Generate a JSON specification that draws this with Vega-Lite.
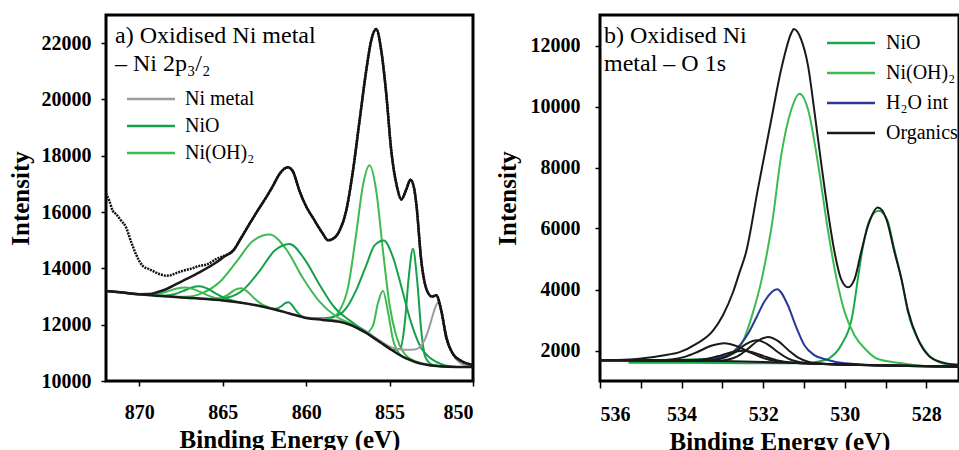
{
  "$schema": "https://vega.github.io/schema/vega-lite/v6.json",
  "padding": {"left": 6, "top": 13, "right": 0, "bottom": 0},
  "spacing": 17,
  "config": {
    "font": "Liberation Serif",
    "view": {"stroke": "black", "strokeWidth": 3},
    "axis": {"domain": false, "grid": false, "ticks": true, "tickColor": "black", "tickWidth": 1.5, "tickSize": 5,
      "labelFont": "Liberation Serif", "labelFontWeight": "bold", "labelFontSize": 20, "labelColor": "black",
      "titleFont": "Liberation Serif", "titleFontWeight": "bold", "titleFontSize": 25, "titleColor": "black"},
    "legend": {"labelFont": "Liberation Serif", "labelFontSize": 20, "labelColor": "black", "padding": 0},
    "title": {"font": "Liberation Serif", "fontSize": 24, "fontWeight": "normal", "color": "black", "anchor": "start", "frame": "group", "lineHeight": 28}
  },
  "resolve": {"scale": {"x": "independent", "y": "independent", "color": "independent"}, "legend": {"color": "independent"}},
  "datasets": {
    "a_comp": [
      {"c":"A","t":"Ni(OH)₂","E":859.0,"I":12180},{"c":"A","t":"Ni(OH)₂","E":858.5,"I":12230},{"c":"A","t":"Ni(OH)₂","E":858.0,"I":12500},{"c":"A","t":"Ni(OH)₂","E":857.5,"I":13300},{"c":"A","t":"Ni(OH)₂","E":857.0,"I":15230},{"c":"A","t":"Ni(OH)₂","E":856.6,"I":16940},{"c":"A","t":"Ni(OH)₂","E":856.2,"I":17660},{"c":"A","t":"Ni(OH)₂","E":855.8,"I":16750},{"c":"A","t":"Ni(OH)₂","E":855.4,"I":14640},{"c":"A","t":"Ni(OH)₂","E":855.0,"I":12700},{"c":"A","t":"Ni(OH)₂","E":854.6,"I":11600},{"c":"A","t":"Ni(OH)₂","E":854.2,"I":11050},{"c":"A","t":"Ni(OH)₂","E":853.5,"I":10710},{"c":"A","t":"Ni(OH)₂","E":852.5,"I":10570},{"c":"A","t":"Ni(OH)₂","E":851.0,"I":10500},
      {"c":"B","t":"NiO","E":860.0,"I":12250},{"c":"B","t":"NiO","E":859.0,"I":12230},{"c":"B","t":"NiO","E":858.2,"I":12310},{"c":"B","t":"NiO","E":857.6,"I":12590},{"c":"B","t":"NiO","E":857.0,"I":13230},{"c":"B","t":"NiO","E":856.4,"I":14110},{"c":"B","t":"NiO","E":855.9,"I":14815},{"c":"B","t":"NiO","E":855.35,"I":14990},{"c":"B","t":"NiO","E":854.8,"I":14400},{"c":"B","t":"NiO","E":854.3,"I":13360},{"c":"B","t":"NiO","E":853.7,"I":12055},{"c":"B","t":"NiO","E":853.1,"I":11160},{"c":"B","t":"NiO","E":852.5,"I":10790},{"c":"B","t":"NiO","E":851.8,"I":10575},{"c":"B","t":"NiO","E":851.0,"I":10500},
      {"c":"C","t":"Ni(OH)₂","E":856.8,"I":11840},{"c":"C","t":"Ni(OH)₂","E":856.4,"I":11720},{"c":"C","t":"Ni(OH)₂","E":856.0,"I":11960},{"c":"C","t":"Ni(OH)₂","E":855.7,"I":12760},{"c":"C","t":"Ni(OH)₂","E":855.4,"I":13210},{"c":"C","t":"Ni(OH)₂","E":855.1,"I":12480},{"c":"C","t":"Ni(OH)₂","E":854.8,"I":11480},{"c":"C","t":"Ni(OH)₂","E":854.4,"I":10955},{"c":"C","t":"Ni(OH)₂","E":854.0,"I":10800},
      {"c":"D","t":"NiO","E":854.8,"I":11100},{"c":"D","t":"NiO","E":854.35,"I":11150},{"c":"D","t":"NiO","E":854.1,"I":12000},{"c":"D","t":"NiO","E":853.85,"I":13700},{"c":"D","t":"NiO","E":853.6,"I":14700},{"c":"D","t":"NiO","E":853.35,"I":13590},{"c":"D","t":"NiO","E":853.1,"I":11780},{"c":"D","t":"NiO","E":852.85,"I":10840},{"c":"D","t":"NiO","E":852.4,"I":10570},{"c":"D","t":"NiO","E":851.5,"I":10500},
      {"c":"M","t":"Ni metal","E":860.0,"I":12250},{"c":"M","t":"Ni metal","E":859.0,"I":12200},{"c":"M","t":"Ni metal","E":858.0,"I":12140},{"c":"M","t":"Ni metal","E":857.0,"I":11960},{"c":"M","t":"Ni metal","E":856.5,"I":11810},{"c":"M","t":"Ni metal","E":856.0,"I":11600},{"c":"M","t":"Ni metal","E":855.5,"I":11400},{"c":"M","t":"Ni metal","E":855.0,"I":11220},{"c":"M","t":"Ni metal","E":854.5,"I":11140},{"c":"M","t":"Ni metal","E":854.0,"I":11110},{"c":"M","t":"Ni metal","E":853.5,"I":11120},{"c":"M","t":"Ni metal","E":853.2,"I":11200},{"c":"M","t":"Ni metal","E":852.9,"I":11450},{"c":"M","t":"Ni metal","E":852.6,"I":11950},{"c":"M","t":"Ni metal","E":852.4,"I":12360},{"c":"M","t":"Ni metal","E":852.2,"I":12700},{"c":"M","t":"Ni metal","E":852.1,"I":12790},{"c":"M","t":"Ni metal","E":851.95,"I":12650},{"c":"M","t":"Ni metal","E":851.8,"I":12200},{"c":"M","t":"Ni metal","E":851.6,"I":11650},{"c":"M","t":"Ni metal","E":851.4,"I":11190},{"c":"M","t":"Ni metal","E":851.1,"I":10850},{"c":"M","t":"Ni metal","E":850.8,"I":10660},{"c":"M","t":"Ni metal","E":850.4,"I":10560},{"c":"M","t":"Ni metal","E":850.0,"I":10530},
      {"c":"E","t":"Ni(OH)₂","E":868.2,"I":12990},{"c":"E","t":"Ni(OH)₂","E":867.2,"I":12990},{"c":"E","t":"Ni(OH)₂","E":866.2,"I":13130},{"c":"E","t":"Ni(OH)₂","E":865.2,"I":13510},{"c":"E","t":"Ni(OH)₂","E":864.2,"I":14220},{"c":"E","t":"Ni(OH)₂","E":863.2,"I":14970},{"c":"E","t":"Ni(OH)₂","E":862.2,"I":15200},{"c":"E","t":"Ni(OH)₂","E":861.2,"I":14680},{"c":"E","t":"Ni(OH)₂","E":860.2,"I":13660},{"c":"E","t":"Ni(OH)₂","E":859.2,"I":12820},{"c":"E","t":"Ni(OH)₂","E":858.2,"I":12290},{"c":"E","t":"Ni(OH)₂","E":857.2,"I":12000},{"c":"E","t":"Ni(OH)₂","E":856.5,"I":11750},
      {"c":"F","t":"NiO","E":866.5,"I":12925},{"c":"F","t":"NiO","E":865.5,"I":12920},{"c":"F","t":"NiO","E":864.6,"I":12985},{"c":"F","t":"NiO","E":863.7,"I":13280},{"c":"F","t":"NiO","E":862.8,"I":13905},{"c":"F","t":"NiO","E":861.9,"I":14625},{"c":"F","t":"NiO","E":861.0,"I":14870},{"c":"F","t":"NiO","E":860.1,"I":14330},{"c":"F","t":"NiO","E":859.2,"I":13420},{"c":"F","t":"NiO","E":858.3,"I":12610},{"c":"F","t":"NiO","E":857.4,"I":12155},{"c":"F","t":"NiO","E":856.5,"I":11770},{"c":"F","t":"NiO","E":855.8,"I":11480},
      {"c":"G","t":"Ni(OH)₂","E":865.6,"I":12905},{"c":"G","t":"Ni(OH)₂","E":865.1,"I":12950},{"c":"G","t":"Ni(OH)₂","E":864.7,"I":13060},{"c":"G","t":"Ni(OH)₂","E":864.3,"I":13230},{"c":"G","t":"Ni(OH)₂","E":863.9,"I":13290},{"c":"G","t":"Ni(OH)₂","E":863.5,"I":13160},{"c":"G","t":"Ni(OH)₂","E":863.1,"I":12930},{"c":"G","t":"Ni(OH)₂","E":862.7,"I":12740},{"c":"G","t":"Ni(OH)₂","E":862.2,"I":12600},
      {"c":"H","t":"NiO","E":869.0,"I":13034},{"c":"H","t":"NiO","E":868.4,"I":13038},{"c":"H","t":"NiO","E":867.9,"I":13082},{"c":"H","t":"NiO","E":867.4,"I":13190},{"c":"H","t":"NiO","E":866.9,"I":13315},{"c":"H","t":"NiO","E":866.4,"I":13365},{"c":"H","t":"NiO","E":865.9,"I":13275},{"c":"H","t":"NiO","E":865.4,"I":13100},{"c":"H","t":"NiO","E":864.9,"I":12947},{"c":"H","t":"NiO","E":864.4,"I":12848},{"c":"H","t":"NiO","E":863.8,"I":12774},
      {"c":"I","t":"Ni(OH)₂","E":870.1,"I":13078},{"c":"I","t":"Ni(OH)₂","E":869.4,"I":13067},{"c":"I","t":"Ni(OH)₂","E":868.85,"I":13101},{"c":"I","t":"Ni(OH)₂","E":868.3,"I":13185},{"c":"I","t":"Ni(OH)₂","E":867.75,"I":13288},{"c":"I","t":"Ni(OH)₂","E":867.2,"I":13320},{"c":"I","t":"Ni(OH)₂","E":866.65,"I":13238},{"c":"I","t":"Ni(OH)₂","E":866.1,"I":13095},{"c":"I","t":"Ni(OH)₂","E":865.55,"I":12966},{"c":"I","t":"Ni(OH)₂","E":865.0,"I":12882},{"c":"I","t":"Ni(OH)₂","E":864.3,"I":12813},
      {"c":"J","t":"NiO","E":862.06,"I":12575},{"c":"J","t":"NiO","E":861.86,"I":12565},{"c":"J","t":"NiO","E":861.66,"I":12594},{"c":"J","t":"NiO","E":861.46,"I":12670},{"c":"J","t":"NiO","E":861.26,"I":12766},{"c":"J","t":"NiO","E":861.06,"I":12800},{"c":"J","t":"NiO","E":860.86,"I":12706},{"c":"J","t":"NiO","E":860.66,"I":12540},{"c":"J","t":"NiO","E":860.46,"I":12394},{"c":"J","t":"NiO","E":860.26,"I":12295},{"c":"J","t":"NiO","E":860.06,"I":12245}
    ],
    "a_black": [
      {"c":"bg","E":872,"I":13200},{"c":"bg","E":871,"I":13140},{"c":"bg","E":870,"I":13080},{"c":"bg","E":869,"I":13030},{"c":"bg","E":868,"I":12990},{"c":"bg","E":867,"I":12950},{"c":"bg","E":866,"I":12910},{"c":"bg","E":865,"I":12860},{"c":"bg","E":864,"I":12790},{"c":"bg","E":863,"I":12690},{"c":"bg","E":862,"I":12560},{"c":"bg","E":861,"I":12400},{"c":"bg","E":860,"I":12240},{"c":"bg","E":859,"I":12170},{"c":"bg","E":858,"I":12100},{"c":"bg","E":857.5,"I":12020},{"c":"bg","E":857,"I":11900},{"c":"bg","E":856.5,"I":11740},{"c":"bg","E":856,"I":11550},{"c":"bg","E":855.5,"I":11350},{"c":"bg","E":855,"I":11150},{"c":"bg","E":854.5,"I":10960},{"c":"bg","E":854,"I":10800},{"c":"bg","E":853.5,"I":10680},{"c":"bg","E":853,"I":10600},{"c":"bg","E":852,"I":10520},{"c":"bg","E":851,"I":10500},{"c":"bg","E":850,"I":10500},
      {"c":"fit","E":872,"I":13200},{"c":"fit","E":871,"I":13140},{"c":"fit","E":870,"I":13085},{"c":"fit","E":869.4,"I":13090},{"c":"fit","E":868.9,"I":13160},{"c":"fit","E":868.4,"I":13260},{"c":"fit","E":867.4,"I":13560},{"c":"fit","E":866.4,"I":13860},{"c":"fit","E":865.4,"I":14210},{"c":"fit","E":864.9,"I":14420},{"c":"fit","E":864.35,"I":14650},{"c":"fit","E":863.9,"I":15080},{"c":"fit","E":863.4,"I":15580},{"c":"fit","E":862.9,"I":16060},{"c":"fit","E":862.4,"I":16520},{"c":"fit","E":862.0,"I":16920},{"c":"fit","E":861.6,"I":17350},{"c":"fit","E":861.1,"I":17590},{"c":"fit","E":860.8,"I":17450},{"c":"fit","E":860.4,"I":16750},{"c":"fit","E":860.0,"I":16200},{"c":"fit","E":859.6,"I":15800},{"c":"fit","E":859.0,"I":15230},{"c":"fit","E":858.7,"I":15000},{"c":"fit","E":858.4,"I":15050},{"c":"fit","E":858.0,"I":15340},{"c":"fit","E":857.6,"I":16050},{"c":"fit","E":857.2,"I":17450},{"c":"fit","E":856.8,"I":19250},{"c":"fit","E":856.4,"I":21030},{"c":"fit","E":856.1,"I":22100},{"c":"fit","E":855.8,"I":22500},{"c":"fit","E":855.5,"I":21740},{"c":"fit","E":855.2,"I":20200},{"c":"fit","E":854.9,"I":18180},{"c":"fit","E":854.55,"I":16880},{"c":"fit","E":854.3,"I":16450},{"c":"fit","E":854.0,"I":16800},{"c":"fit","E":853.75,"I":17150},{"c":"fit","E":853.55,"I":16900},{"c":"fit","E":853.4,"I":16300},{"c":"fit","E":853.1,"I":14270},{"c":"fit","E":852.75,"I":13200},{"c":"fit","E":852.45,"I":13000},{"c":"fit","E":852.2,"I":13050},{"c":"fit","E":851.9,"I":12490},{"c":"fit","E":851.6,"I":11540},{"c":"fit","E":851.2,"I":10960},{"c":"fit","E":850.7,"I":10710},{"c":"fit","E":850.0,"I":10570}
    ],
    "a_raw": [
      {"E":872,"I":16650},{"E":871.8,"I":16400},{"E":871.6,"I":16050},{"E":871.4,"I":15930},{"E":871.1,"I":15700},{"E":870.8,"I":15460},{"E":870.5,"I":14950},{"E":870.2,"I":14500},{"E":869.8,"I":14090},{"E":869.4,"I":13970},{"E":869.0,"I":13850},{"E":868.7,"I":13780},{"E":868.4,"I":13740},{"E":868.1,"I":13760},{"E":867.8,"I":13830},{"E":867.4,"I":13910},{"E":866.9,"I":13990},{"E":866.4,"I":14090},{"E":865.9,"I":14150},{"E":865.4,"I":14330},{"E":864.9,"I":14450},{"E":864.35,"I":14650},{"E":863.9,"I":15080},{"E":863.4,"I":15580},{"E":862.9,"I":16060},{"E":862.4,"I":16520},{"E":862.0,"I":16920},{"E":861.6,"I":17350},{"E":861.1,"I":17590},{"E":860.8,"I":17450},{"E":860.4,"I":16750},{"E":860.0,"I":16200},{"E":859.6,"I":15800},{"E":859.0,"I":15230},{"E":858.7,"I":15000},{"E":858.4,"I":15050},{"E":858.0,"I":15340},{"E":857.6,"I":16050},{"E":857.2,"I":17450},{"E":856.8,"I":19250},{"E":856.4,"I":21030},{"E":856.1,"I":22100},{"E":855.8,"I":22500},{"E":855.5,"I":21740},{"E":855.2,"I":20200},{"E":854.9,"I":18180},{"E":854.55,"I":16880},{"E":854.3,"I":16450},{"E":854.0,"I":16800},{"E":853.75,"I":17150},{"E":853.55,"I":16900},{"E":853.4,"I":16300},{"E":853.1,"I":14270},{"E":852.75,"I":13200},{"E":852.45,"I":13000},{"E":852.2,"I":13050},{"E":851.9,"I":12490},{"E":851.6,"I":11540},{"E":851.2,"I":10960},{"E":850.7,"I":10710},{"E":850.0,"I":10570}
    ],
    "b_comp": [
      {"c":"N","t":"NiO","E":535.3,"I":1600},{"c":"N","t":"NiO","E":533.0,"I":1590},{"c":"N","t":"NiO","E":531.5,"I":1580},{"c":"N","t":"NiO","E":531.0,"I":1590},{"c":"N","t":"NiO","E":530.6,"I":1650},{"c":"N","t":"NiO","E":530.4,"I":1730},{"c":"N","t":"NiO","E":530.09,"I":2170},{"c":"N","t":"NiO","E":529.8,"I":3250},{"c":"N","t":"NiO","E":529.68,"I":4340},{"c":"N","t":"NiO","E":529.55,"I":5440},{"c":"N","t":"NiO","E":529.4,"I":6250},{"c":"N","t":"NiO","E":529.17,"I":6580},{"c":"N","t":"NiO","E":528.95,"I":6250},{"c":"N","t":"NiO","E":528.8,"I":5400},{"c":"N","t":"NiO","E":528.61,"I":4340},{"c":"N","t":"NiO","E":528.45,"I":3250},{"c":"N","t":"NiO","E":528.12,"I":2170},{"c":"N","t":"NiO","E":527.7,"I":1620},{"c":"N","t":"NiO","E":527.2,"I":1490},{"c":"N","t":"NiO","E":527.0,"I":1470},
      {"c":"H","t":"Ni(OH)₂","E":536,"I":1680},{"c":"H","t":"Ni(OH)₂","E":534.5,"I":1690},{"c":"H","t":"Ni(OH)₂","E":533.5,"I":1720},{"c":"H","t":"Ni(OH)₂","E":533.0,"I":1790},{"c":"H","t":"Ni(OH)₂","E":532.66,"I":1950},{"c":"H","t":"Ni(OH)₂","E":532.45,"I":2450},{"c":"H","t":"Ni(OH)₂","E":532.25,"I":3250},{"c":"H","t":"Ni(OH)₂","E":532.05,"I":4250},{"c":"H","t":"Ni(OH)₂","E":531.9,"I":5250},{"c":"H","t":"Ni(OH)₂","E":531.79,"I":6090},{"c":"H","t":"Ni(OH)₂","E":531.56,"I":8380},{"c":"H","t":"Ni(OH)₂","E":531.31,"I":9900},{"c":"H","t":"Ni(OH)₂","E":531.11,"I":10420},{"c":"H","t":"Ni(OH)₂","E":530.9,"I":9900},{"c":"H","t":"Ni(OH)₂","E":530.66,"I":8160},{"c":"H","t":"Ni(OH)₂","E":530.43,"I":6090},{"c":"H","t":"Ni(OH)₂","E":530.2,"I":4340},{"c":"H","t":"Ni(OH)₂","E":530.0,"I":3250},{"c":"H","t":"Ni(OH)₂","E":529.76,"I":2490},{"c":"H","t":"Ni(OH)₂","E":529.5,"I":2050},{"c":"H","t":"Ni(OH)₂","E":529.19,"I":1720},{"c":"H","t":"Ni(OH)₂","E":528.7,"I":1600},{"c":"H","t":"Ni(OH)₂","E":528.0,"I":1490},{"c":"H","t":"Ni(OH)₂","E":527.0,"I":1470},
      {"c":"W","t":"H₂O int","E":536,"I":1680},{"c":"W","t":"H₂O int","E":534.0,"I":1680},{"c":"W","t":"H₂O int","E":533.4,"I":1710},{"c":"W","t":"H₂O int","E":532.9,"I":1830},{"c":"W","t":"H₂O int","E":532.58,"I":2160},{"c":"W","t":"H₂O int","E":532.35,"I":2600},{"c":"W","t":"H₂O int","E":532.16,"I":3100},{"c":"W","t":"H₂O int","E":531.95,"I":3650},{"c":"W","t":"H₂O int","E":531.66,"I":4010},{"c":"W","t":"H₂O int","E":531.4,"I":3500},{"c":"W","t":"H₂O int","E":531.2,"I":2800},{"c":"W","t":"H₂O int","E":530.99,"I":2170},{"c":"W","t":"H₂O int","E":530.75,"I":1850},{"c":"W","t":"H₂O int","E":530.5,"I":1720},{"c":"W","t":"H₂O int","E":530.0,"I":1580},{"c":"W","t":"H₂O int","E":529.0,"I":1510},{"c":"W","t":"H₂O int","E":527.0,"I":1470},
      {"c":"O1","t":"Organics","E":536,"I":1680},{"c":"O1","t":"Organics","E":534.64,"I":1678},{"c":"O1","t":"Organics","E":534.25,"I":1707},{"c":"O1","t":"Organics","E":533.925,"I":1791},{"c":"O1","t":"Organics","E":533.6,"I":1959},{"c":"O1","t":"Organics","E":533.275,"I":2155},{"c":"O1","t":"Organics","E":532.95,"I":2240},{"c":"O1","t":"Organics","E":532.625,"I":2133},{"c":"O1","t":"Organics","E":532.3,"I":1923},{"c":"O1","t":"Organics","E":531.975,"I":1743},{"c":"O1","t":"Organics","E":531.65,"I":1644},{"c":"O1","t":"Organics","E":531.26,"I":1597},{"c":"O1","t":"Organics","E":530.0,"I":1540},{"c":"O1","t":"Organics","E":527.0,"I":1470},
      {"c":"O2","t":"Organics","E":536,"I":1680},{"c":"O2","t":"Organics","E":533.93,"I":1670},{"c":"O2","t":"Organics","E":533.6,"I":1686},{"c":"O2","t":"Organics","E":533.325,"I":1736},{"c":"O2","t":"Organics","E":533.05,"I":1832},{"c":"O2","t":"Organics","E":532.775,"I":1945},{"c":"O2","t":"Organics","E":532.5,"I":1995},{"c":"O2","t":"Organics","E":532.225,"I":1928},{"c":"O2","t":"Organics","E":531.95,"I":1798},{"c":"O2","t":"Organics","E":531.675,"I":1684},{"c":"O2","t":"Organics","E":531.4,"I":1618},{"c":"O2","t":"Organics","E":531.07,"I":1586},{"c":"O2","t":"Organics","E":530.0,"I":1540},{"c":"O2","t":"Organics","E":527.0,"I":1470},
      {"c":"O3","t":"Organics","E":536,"I":1680},{"c":"O3","t":"Organics","E":533.45,"I":1668},{"c":"O3","t":"Organics","E":533.15,"I":1700},{"c":"O3","t":"Organics","E":532.9,"I":1795},{"c":"O3","t":"Organics","E":532.65,"I":1990},{"c":"O3","t":"Organics","E":532.4,"I":2225},{"c":"O3","t":"Organics","E":532.15,"I":2333},{"c":"O3","t":"Organics","E":531.9,"I":2212},{"c":"O3","t":"Organics","E":531.65,"I":1960},{"c":"O3","t":"Organics","E":531.4,"I":1745},{"c":"O3","t":"Organics","E":531.15,"I":1630},{"c":"O3","t":"Organics","E":530.85,"I":1580},{"c":"O3","t":"Organics","E":530.0,"I":1540},{"c":"O3","t":"Organics","E":527.0,"I":1470},
      {"c":"O4","t":"Organics","E":536,"I":1680},{"c":"O4","t":"Organics","E":533.18,"I":1660},{"c":"O4","t":"Organics","E":532.88,"I":1700},{"c":"O4","t":"Organics","E":532.63,"I":1810},{"c":"O4","t":"Organics","E":532.38,"I":2045},{"c":"O4","t":"Organics","E":532.13,"I":2320},{"c":"O4","t":"Organics","E":531.88,"I":2445},{"c":"O4","t":"Organics","E":531.63,"I":2305},{"c":"O4","t":"Organics","E":531.38,"I":2010},{"c":"O4","t":"Organics","E":531.13,"I":1760},{"c":"O4","t":"Organics","E":530.88,"I":1625},{"c":"O4","t":"Organics","E":530.58,"I":1570},{"c":"O4","t":"Organics","E":530.0,"I":1540},{"c":"O4","t":"Organics","E":527.0,"I":1470}
    ],
    "b_black": [
      {"c":"bg","E":536,"I":1680},{"c":"bg","E":535,"I":1678},{"c":"bg","E":534,"I":1670},{"c":"bg","E":533,"I":1652},{"c":"bg","E":532,"I":1620},{"c":"bg","E":531,"I":1582},{"c":"bg","E":530,"I":1535},{"c":"bg","E":529,"I":1505},{"c":"bg","E":528,"I":1482},{"c":"bg","E":527,"I":1470},
      {"c":"fit","E":536,"I":1680},{"c":"fit","E":535.28,"I":1705},{"c":"fit","E":534.46,"I":1835},{"c":"fit","E":534.05,"I":1945},{"c":"fit","E":533.64,"I":2215},{"c":"fit","E":533.23,"I":2650},{"c":"fit","E":532.99,"I":3150},{"c":"fit","E":532.74,"I":3910},{"c":"fit","E":532.58,"I":4560},{"c":"fit","E":532.42,"I":5220},{"c":"fit","E":532.13,"I":7290},{"c":"fit","E":531.8,"I":9580},{"c":"fit","E":531.56,"I":11210},{"c":"fit","E":531.31,"I":12410},{"c":"fit","E":531.25,"I":12540},{"c":"fit","E":531.07,"I":12200},{"c":"fit","E":530.9,"I":11330},{"c":"fit","E":530.74,"I":9800},{"c":"fit","E":530.58,"I":8160},{"c":"fit","E":530.41,"I":6530},{"c":"fit","E":530.25,"I":5220},{"c":"fit","E":530.09,"I":4340},{"c":"fit","E":529.92,"I":4070},{"c":"fit","E":529.76,"I":4340},{"c":"fit","E":529.6,"I":5220},{"c":"fit","E":529.43,"I":6090},{"c":"fit","E":529.19,"I":6690},{"c":"fit","E":528.98,"I":6310},{"c":"fit","E":528.78,"I":5220},{"c":"fit","E":528.61,"I":4340},{"c":"fit","E":528.45,"I":3310},{"c":"fit","E":528.21,"I":2380},{"c":"fit","E":527.96,"I":1850},{"c":"fit","E":527.63,"I":1620},{"c":"fit","E":527.2,"I":1530},{"c":"fit","E":527.0,"I":1510}
    ]
  },
  "hconcat": [
    {
      "width": 367, "height": 366,
      "title": {"text": ["a) Oxidised Ni metal", "– Ni 2p₃/₂"], "dx": 9, "offset": -61, "orient": "top"},
      "encoding": {
        "x": {"field": "E", "type": "quantitative", "scale": {"domain": [850, 872], "reverse": true, "nice": false, "zero": false},
          "axis": {"values": [870, 865, 860, 855, 850], "format": "d", "title": "Binding Energy (eV)", "labelPadding": 16, "titlePadding": 5}},
        "y": {"field": "I", "type": "quantitative", "scale": {"domain": [10000, 23000], "nice": false, "zero": false},
          "axis": {"values": [10000, 12000, 14000, 16000, 18000, 20000, 22000], "format": "d", "title": "Intensity", "labelPadding": 10, "titlePadding": 8}}
      },
      "layer": [
        {"data": {"name": "a_comp"}, "mark": {"type": "line", "interpolate": "monotone", "strokeWidth": 2, "clip": true},
          "encoding": {"detail": {"field": "c"},
            "color": {"field": "t", "type": "nominal",
              "scale": {"domain": ["Ni metal", "NiO", "Ni(OH)₂"], "range": ["#9c9c9c", "#17a04a", "#3dba50"]},
              "legend": {"title": null, "orient": "none", "legendX": 35, "legendY": 74, "symbolType": "M-4.8,0L4.8,0", "symbolSize": 100, "symbolStrokeWidth": 2.5, "labelOffset": 24, "rowPadding": 7, "labelFontSize": 20}}}},
        {"data": {"name": "a_black"}, "mark": {"type": "line", "interpolate": "monotone", "strokeWidth": 2.5, "color": "#1a1a1a", "clip": true},
          "encoding": {"detail": {"field": "c"}}},
        {"data": {"name": "a_raw"}, "mark": {"type": "line", "interpolate": "monotone", "strokeWidth": 2.5, "strokeDash": [2, 1], "color": "#111111", "clip": true},
          "encoding": {}}
      ]
    },
    {
      "width": 359, "height": 366,
      "title": {"text": ["b) Oxidised Ni", "metal – O 1s"], "dx": 4, "offset": -61, "orient": "top"},
      "encoding": {
        "x": {"field": "E", "type": "quantitative", "scale": {"domain": [527.2, 536], "reverse": true, "nice": false, "zero": false},
          "axis": {"values": [536, 535, 534, 533, 532, 531, 530, 529, 528], "labelExpr": "datum.value % 2 == 0 ? datum.label : ''", "format": "d", "title": "Binding Energy (eV)", "labelPadding": 16, "titlePadding": 5, "tickSize": 7}},
        "y": {"field": "I", "type": "quantitative", "scale": {"domain": [1000, 13000], "nice": false, "zero": false},
          "axis": {"values": [2000, 4000, 6000, 8000, 10000, 12000], "format": "d", "title": "Intensity", "labelPadding": 15, "titlePadding": 10}}
      },
      "layer": [
        {"data": {"name": "b_comp"}, "mark": {"type": "line", "interpolate": "monotone", "strokeWidth": 2, "clip": true},
          "encoding": {"detail": {"field": "c"},
            "color": {"field": "t", "type": "nominal",
              "scale": {"domain": ["NiO", "Ni(OH)₂", "H₂O int", "Organics"], "range": ["#1aa94c", "#3dbb50", "#2b3995", "#1a1a1a"]},
              "legend": {"title": null, "orient": "none", "legendX": 241, "legendY": 18, "symbolType": "M-4.8,0L4.8,0", "symbolSize": 100, "symbolStrokeWidth": 2.5, "labelOffset": 25, "rowPadding": 10, "labelFontSize": 20}}}},
        {"data": {"name": "b_black"}, "mark": {"type": "line", "interpolate": "monotone", "strokeWidth": 2, "color": "#1a1a1a", "clip": true},
          "encoding": {"detail": {"field": "c"}}}
      ]
    }
  ]
}
